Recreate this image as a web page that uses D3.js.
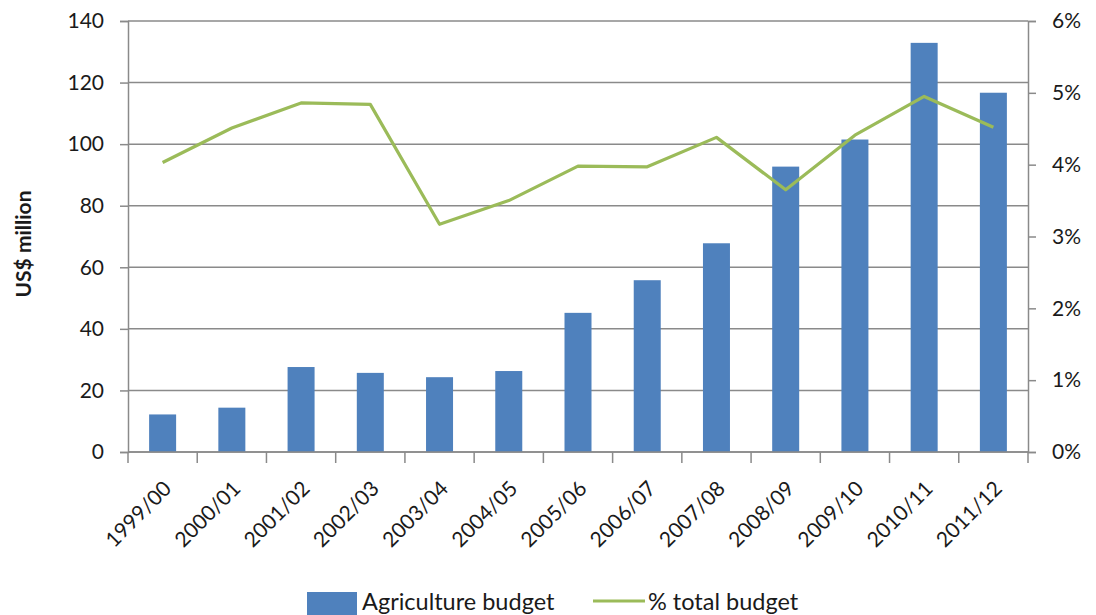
<!DOCTYPE html>
<html>
<head>
<meta charset="utf-8">
<script src="https://cdn.jsdelivr.net/npm/d3@7"></script>
<style>
  html, body { margin: 0; padding: 0; background: #fff; }
  svg { display: block; }
  text { font-family: Lato, "Open Sans", sans-serif; fill: #1a1a1a; }
</style>
</head>
<body>
<svg id="chart" width="1096" height="615"></svg>
<script>
// Agriculture budget (US$ million) and its share of the total budget
const categories = ["1999/00","2000/01","2001/02","2002/03","2003/04","2004/05","2005/06",
                    "2006/07","2007/08","2008/09","2009/10","2010/11","2011/12"];
const agricultureBudget = [12.2, 14.4, 27.6, 25.7, 24.3, 26.3, 45.2, 55.8, 67.8, 92.7, 101.5, 132.9, 116.7];
const shareOfTotal = [4.03, 4.51, 4.86, 4.84, 3.17, 3.50, 3.98, 3.97, 4.38, 3.65, 4.41, 4.95, 4.52];
const leftTicks = [0, 20, 40, 60, 80, 100, 120, 140];
const rightTicks = [0, 1, 2, 3, 4, 5, 6];
const seriesNames = ["Agriculture budget", "% total budget"];

const svg = d3.select("#chart");
const plot = { left: 128, right: 1028, top: 21, bottom: 452 };
const gridColor = "#8a8a8a";
const barColor = "#4f81bd";
const lineColor = "#9bbb59";
const labelFont = 21;

const x = d3.scaleBand().domain(categories)
  .range([plot.left, plot.right]).paddingInner(0.61).paddingOuter(0.305);
const yLeft = d3.scaleLinear().domain([0, 140]).range([plot.bottom, plot.top]);
const yRight = d3.scaleLinear().domain([0, 6]).range([plot.bottom, plot.top]);

// horizontal gridlines
svg.append("g").selectAll("line").data(leftTicks).join("line")
  .attr("x1", plot.left).attr("x2", plot.right)
  .attr("y1", d => yLeft(d)).attr("y2", d => yLeft(d))
  .attr("stroke", gridColor).attr("stroke-width", 1.5);

// bars
svg.append("g").selectAll("rect").data(agricultureBudget).join("rect")
  .attr("x", (d, i) => x(categories[i]))
  .attr("width", x.bandwidth())
  .attr("y", d => yLeft(d))
  .attr("height", d => yLeft(0) - yLeft(d))
  .attr("fill", barColor);

// left axis
const leftAxis = svg.append("g").attr("transform", `translate(${plot.left},0)`)
  .call(d3.axisLeft(yLeft).tickValues(leftTicks).tickSize(8).tickPadding(16).tickFormat(d3.format("d")));
leftAxis.select(".domain").attr("stroke", gridColor).attr("stroke-width", 1.5);
leftAxis.selectAll(".tick line").attr("stroke", gridColor).attr("stroke-width", 1.5);
leftAxis.selectAll(".tick text").attr("font-size", labelFont).attr("font-family", "Lato, sans-serif").attr("fill", "#1a1a1a");

// right axis
const rightAxis = svg.append("g").attr("transform", `translate(${plot.right},0)`)
  .call(d3.axisRight(yRight).tickValues(rightTicks).tickSize(8).tickPadding(16).tickFormat(d => d + "%"));
rightAxis.select(".domain").attr("stroke", gridColor).attr("stroke-width", 1.5);
rightAxis.selectAll(".tick line").attr("stroke", gridColor).attr("stroke-width", 1.5);
rightAxis.selectAll(".tick text").attr("font-size", labelFont).attr("font-family", "Lato, sans-serif").attr("fill", "#1a1a1a");

// bottom axis: ticks sit on the boundaries between categories
const step = x.step();
const boundaries = d3.range(categories.length + 1).map(i => plot.left + i * step);
svg.append("line").attr("x1", plot.left).attr("x2", plot.right)
  .attr("y1", plot.bottom).attr("y2", plot.bottom)
  .attr("stroke", gridColor).attr("stroke-width", 1.5);
svg.append("g").selectAll("line").data(boundaries).join("line")
  .attr("x1", d => d).attr("x2", d => d)
  .attr("y1", plot.bottom).attr("y2", plot.bottom + 11)
  .attr("stroke", gridColor).attr("stroke-width", 1.5);

// rotated category labels
svg.append("g").selectAll("text").data(categories).join("text")
  .attr("transform", d => `translate(${x(d) + x.bandwidth() / 2 + 10},${plot.bottom + 38}) rotate(-45)`)
  .attr("text-anchor", "end")
  .attr("font-size", labelFont)
  .text(d => d);

// share of total budget line
const line = d3.line()
  .x((d, i) => x(categories[i]) + x.bandwidth() / 2)
  .y(d => yRight(d));
svg.append("path").datum(shareOfTotal)
  .attr("d", line)
  .attr("fill", "none")
  .attr("stroke", lineColor)
  .attr("stroke-width", 3.2)
  .attr("stroke-linejoin", "round");

// y-axis title
svg.append("text")
  .attr("transform", `translate(31,244) rotate(-90)`)
  .attr("text-anchor", "middle")
  .attr("font-size", 21)
  .attr("font-weight", "bold")
  .text("US$ million");

// legend
const legend = svg.append("g");
legend.append("rect").attr("x", 307).attr("y", 592).attr("width", 50).attr("height", 23).attr("fill", barColor);
legend.append("text").attr("x", 362).attr("y", 610).attr("font-size", 23.5).text(seriesNames[0]);
legend.append("line").attr("x1", 593).attr("x2", 645).attr("y1", 601).attr("y2", 601)
  .attr("stroke", lineColor).attr("stroke-width", 3.2);
legend.append("text").attr("x", 648).attr("y", 610).attr("font-size", 23.5).text(seriesNames[1]);
</script>
</body>
</html>
